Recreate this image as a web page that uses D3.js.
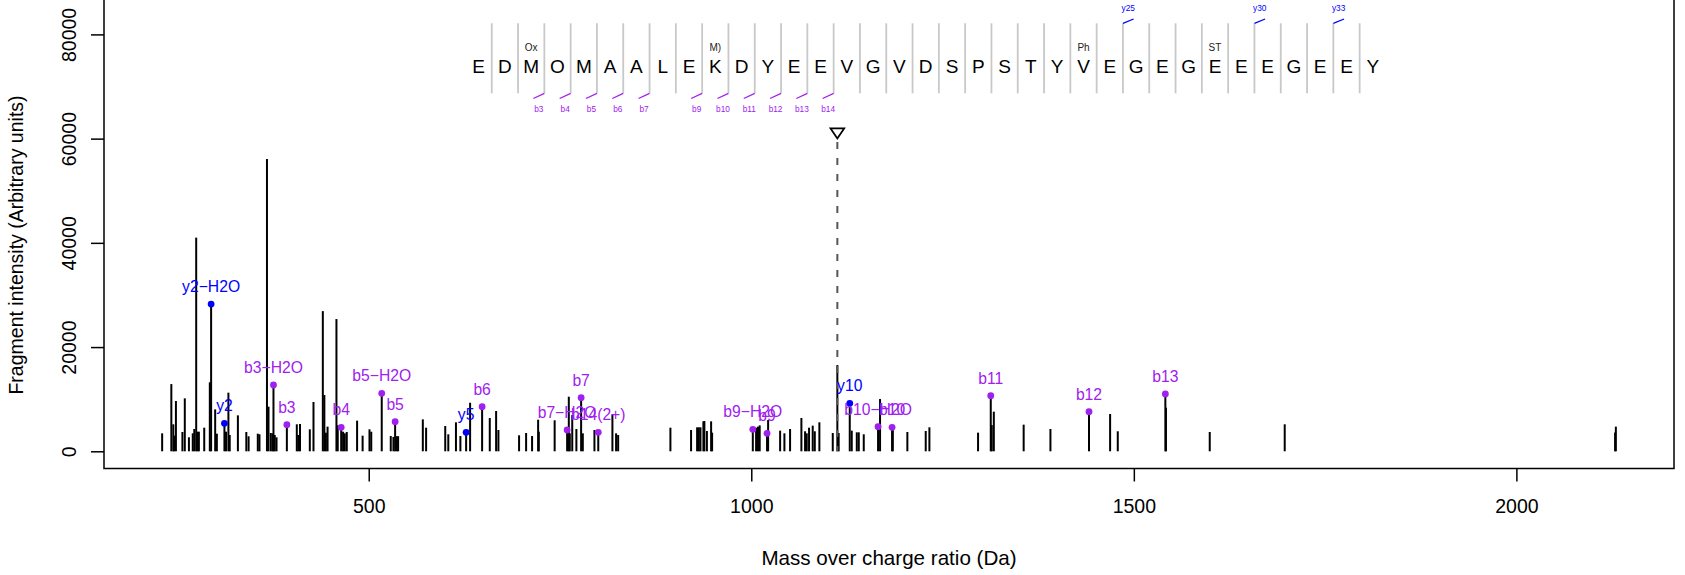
<!DOCTYPE html>
<html><head><meta charset="utf-8">
<script src="https://cdn.jsdelivr.net/npm/d3@7"></script>
<style>body{margin:0;background:#fff}svg{display:block;font-family:"Liberation Sans",Arial,Helvetica,sans-serif}</style>
</head><body><svg id="chart" width="1685" height="575"></svg>
<script>
// ---- peaks (m/z, intensity) ----
const mzValues = [
 230,242,244.6,245.5,248,256.5,259.6,265,270,272,274.5,276.3,278,285,292.3,294,299.3,301.5,311.4,313.5,316.6,318.3,329,340,343,355,357.2,367,369,372,374.3,375.5,377.2,379.5,393,406,408,410.2,423,427.8,440,442,444,446.2,457.8,459.5,464,466.5,468.7,471.3,484.8,492,501,503.3,517,528.8,532.3,534.5,536.7,538.4,570.7,575,
 600,604,614,619.8,627.3,632.5,648.2,658.2,666.5,669.5,696.5,705.7,713.5,721.4,722.3,743,759.3,761.5,762.8,766,771.4,777.6,779.8,795,800,818.5,823.3,826,894.3,921.3,929.2,931.5,933.6,937.4,938.7,942,947.5,948.8,
 1002,1006.3,1008.8,1011,1020.6,1022,1037.7,1043.3,1050.7,1065.5,1070.3,1072.5,1075.5,1080.3,1083,1089,1106.5,1112.5,1114.2,1128.7,1131.3,1137.9,1140.5,1147,1165.7,1168.3,1184,1185,1204,1228,1232.8,1296.4,1313,1314.3,1317,
 1356,1391,1441.4,1469,1479,1541.2,1542,1599.2,1697.2,2129,2130];
const intensities = [
 3450,12900,5180,3000,9650,3700,10160,2690,3450,4280,41000,3760,3760,4530,13240,28250,8050,3380,5370,3760,11250,3130,6900,3700,2880,3380,3260,56070,8560,3510,3450,12720,3130,2680,5100,5180,3130,5240,4220,9460,26900,10800,3570,4730,25380,4980,4600,3760,3450,3700,5880,3000,4220,3760,11120,2930,2760,5680,2900,2900,6130,4530,
 4850,3260,5560,2930,3640,9320,8560,6390,7730,4090,3070,3510,2930,6060,3760,5950,4090,10480,3450,6960,4280,10290,3450,4090,3640,7100,3450,3130,4530,4090,4600,4600,4600,5750,5810,3900,5750,3580,
 4220,4530,4730,4980,3450,6000,3960,3450,4280,6390,3840,3450,4530,4920,3840,5560,3510,16550,3510,9200,3960,3640,3640,3260,4730,10030,4600,4600,3700,3900,4600,3580,10670,5040,7600,
 5110,4280,7600,7160,3840,11000,8370,3700,5180,3600,4730];

// ---- matched fragment ions ----
const ionLabels    = ["y2\u2212H2O","y2","b3\u2212H2O","b3","b4","b5\u2212H2O","b5","y5","b6","b7\u2212H2O","b7","b14(2+)","b9\u2212H2O","b9","y10","b10\u2212H2O","b10","b11","b12","b13"];
const ionMz        = [294,311.4,375.5,393,464,517,534.5,627.3,648.2,759.3,777.6,800,1002,1020.6,1128.7,1165.7,1184,1313,1441.4,1541.2];
const ionIntensity = [28250,5370,12720,5100,4600,11120,5680,3640,8560,4090,10290,3640,4220,3450,9200,4730,4600,10670,7600,11000];
const ionSeries    = ["y","y","b","b","b","b","b","y","b","b","b","b","b","b","y","b","b","b","b","b"];

// ---- peptide sequence annotation ----
const sequence   = ["E","D","M","O","M","A","A","L","E","K","D","Y","E","E","V","G","V","D","S","P","S","T","Y","V","E","G","E","G","E","E","E","G","E","E","Y"];
const modSites   = [2,9,23,28];
const modLabels  = ["Ox","M)","Ph","ST"];
const bIonSites  = [2,3,4,5,6,8,9,10,11,12,13];
const bIonLabels = ["b3","b4","b5","b6","b7","b9","b10","b11","b12","b13","b14"];
const yIonSites  = [24,29,32];
const yIonLabels = ["y25","y30","y33"];

const precursorMz = 1112.5;
const precursorMarkerIntensity = 61250;

const xTicks = [500,1000,1500,2000];
const yTicks = [0,20000,40000,60000,80000];
const xTitle = "Mass over charge ratio (Da)";
const yTitle = "Fragment intensity (Arbitrary units)";

// ---- drawing ----
const svg = d3.select("#chart");
const plot = {left:104, right:1674, top:-3, bottom:468.5};
const colors = {b:"#A020F0", y:"#0000FF"};
const xMin = d3.min(mzValues), xMax = d3.max(mzValues), pad = 0.04*(xMax-xMin);
const x = d3.scaleLinear().domain([xMin-pad, xMax+pad]).range([plot.left, plot.right]);
const y = d3.scaleLinear().domain([0, 80000]).range([451.3, 34.4]);
const seqX = d3.scaleLinear().domain([0, sequence.length-1]).range([478.6, 1372.8]);

// bars
const peaks = mzValues.map((m,i)=>({mz:m, int:intensities[i]}));
svg.append("g").selectAll("line").data(peaks).join("line")
  .attr("x1",d=>x(d.mz)).attr("x2",d=>x(d.mz))
  .attr("y1",y(0)).attr("y2",d=>y(d.int))
  .attr("stroke","#000").attr("stroke-width",2);

// precursor
const px = x(precursorMz), py = y(precursorMarkerIntensity);
svg.append("line").attr("x1",px).attr("x2",px).attr("y1",py+10).attr("y2",y(0))
  .attr("stroke","#555").attr("stroke-width",2).attr("stroke-dasharray","7,9");
svg.append("path").attr("d",`M${px-6.8},${py-3.7}L${px+6.8},${py-3.7}L${px},${py+6.3}Z`)
  .attr("fill","none").attr("stroke","#000").attr("stroke-width",1.8);

// ions
const ions = ionLabels.map((l,i)=>({label:l, mz:ionMz[i], int:ionIntensity[i], s:ionSeries[i]}));
svg.append("g").selectAll("circle").data(ions).join("circle")
  .attr("cx",d=>x(d.mz)).attr("cy",d=>y(d.int)).attr("r",3.4)
  .attr("fill",d=>colors[d.s]);
svg.append("g").selectAll("text").data(ions).join("text")
  .attr("x",d=>x(d.mz)).attr("y",d=>y(d.int)-12)
  .attr("text-anchor","middle").attr("font-size",15.7)
  .attr("fill",d=>colors[d.s]).text(d=>d.label);

// sequence
const seqG = svg.append("g");
seqG.selectAll("line.sep").data(d3.range(sequence.length-1)).join("line")
  .attr("x1",k=>seqX(k+0.5)).attr("x2",k=>seqX(k+0.5))
  .attr("y1",23.3).attr("y2",93.3).attr("stroke","#C8C8C8").attr("stroke-width",1.8);
seqG.selectAll("text.aa").data(sequence).join("text")
  .attr("x",(d,i)=>seqX(i)).attr("y",72.7).attr("text-anchor","middle")
  .attr("font-size",19).attr("fill","#000").text(d=>d);
seqG.selectAll("text.mod").data(modSites).join("text")
  .attr("x",d=>seqX(d)).attr("y",50.5).attr("text-anchor","middle")
  .attr("font-size",10).attr("fill","#222").text((d,i)=>modLabels[i]);
seqG.selectAll("line.bm").data(bIonSites).join("line")
  .attr("x1",k=>seqX(k+0.5)).attr("y1",93.3).attr("x2",k=>seqX(k+0.5)-11).attr("y2",98.5)
  .attr("stroke",colors.b).attr("stroke-width",1.3);
seqG.selectAll("text.bl").data(bIonSites).join("text")
  .attr("x",k=>seqX(k+0.5)-5.5).attr("y",111.5).attr("text-anchor","middle")
  .attr("font-size",8.3).attr("fill",colors.b).text((k,i)=>bIonLabels[i]);
seqG.selectAll("line.ym").data(yIonSites).join("line")
  .attr("x1",k=>seqX(k+0.5)).attr("y1",23.3).attr("x2",k=>seqX(k+0.5)+10.7).attr("y2",19)
  .attr("stroke",colors.y).attr("stroke-width",1.3);
seqG.selectAll("text.yl").data(yIonSites).join("text")
  .attr("x",k=>seqX(k+0.5)+5.3).attr("y",11.2).attr("text-anchor","middle")
  .attr("font-size",8.3).attr("fill",colors.y).text((k,i)=>yIonLabels[i]);

// box
svg.append("rect").attr("x",plot.left).attr("y",plot.top)
  .attr("width",plot.right-plot.left).attr("height",plot.bottom-plot.top)
  .attr("fill","none").attr("stroke","#000").attr("stroke-width",1.5);

// axes
const xAxis = svg.append("g").attr("transform",`translate(0,${plot.bottom})`)
  .call(d3.axisBottom(x).tickValues(xTicks).tickSize(13).tickPadding(17.5).tickFormat(d3.format("d")));
xAxis.select(".domain").remove();
xAxis.selectAll("line").attr("stroke-width",1.5);
xAxis.selectAll("text").attr("font-size",19.5).attr("font-family",null).attr("fill","#000");

const yAxis = svg.append("g").attr("transform",`translate(${plot.left},0)`)
  .call(d3.axisLeft(y).tickValues(yTicks).tickSize(13).tickFormat(d3.format("d")));
yAxis.select(".domain").remove();
yAxis.selectAll("line").attr("stroke-width",1.5);
yAxis.selectAll("text").attr("font-size",19.5).attr("font-family",null).attr("fill","#000")
  .attr("transform","rotate(-90)").attr("x",0).attr("y",-28.4).attr("dy",null)
  .attr("text-anchor","middle");

svg.append("text").attr("x",(plot.left+plot.right)/2).attr("y",565)
  .attr("text-anchor","middle").attr("font-size",20.6).text(xTitle);
svg.append("text").attr("transform","translate(22.5,245) rotate(-90)")
  .attr("text-anchor","middle").attr("font-size",19.5).text(yTitle);
</script></body></html>
